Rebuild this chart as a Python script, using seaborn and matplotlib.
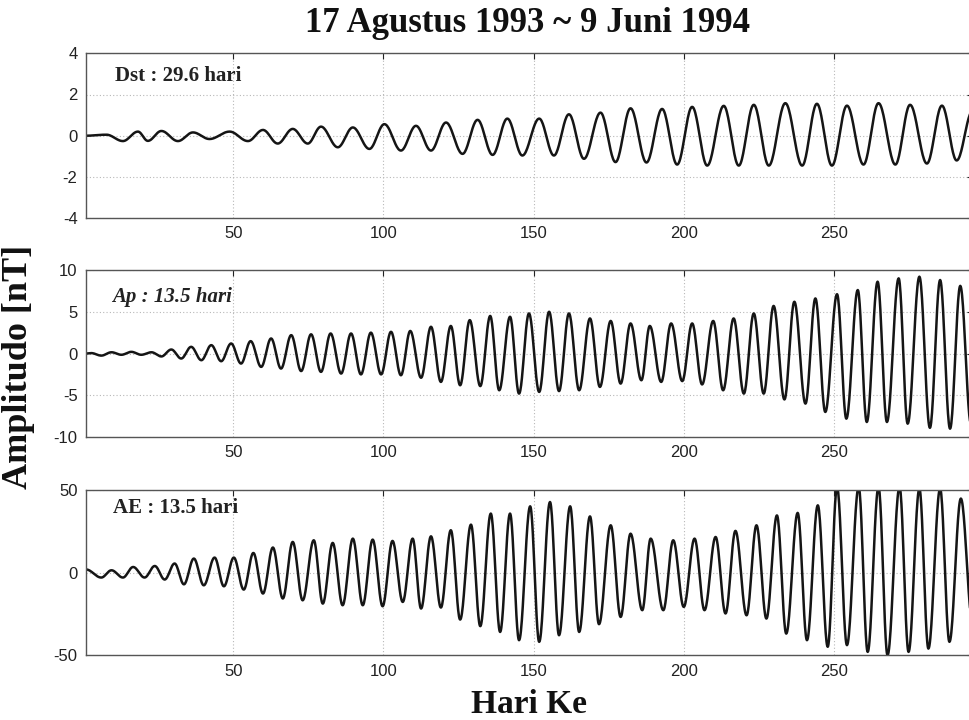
import numpy as np
import pandas as pd
import matplotlib
matplotlib.use("Agg")
import matplotlib.pyplot as plt
import seaborn as sns

title = "17 Agustus 1993 ~ 9 Juni 1994"
ylabel = "Amplitudo [nT]"
xlabel = "Hari Ke"
panel_labels = ["Dst : 29.6 hari", "Ap : 13.5 hari", "AE : 13.5 hari"]
x_ticks = [50, 100, 150, 200, 250]
y_ticks = [[-4, -2, 0, 2, 4], [-10, -5, 0, 5, 10], [-50, 0, 50]]
y_limits = [(-4, 4), (-10, 10), (-50, 50)]

# extrema (day, value)
dst_days = [1, 7.8, 13.3, 18.3, 21.6, 26.1, 31.6, 36.6, 42.1, 48.8,
            54.9, 59.9, 64.8, 69.8, 74.8, 79.2, 84.8, 89.8, 95.3, 100.3,
            105.8, 110.8, 115.8, 120.8, 126.3, 131.3, 136.3, 141.2, 146.2, 151.8,
            156.7, 161.7, 166.7, 172.2, 177.2, 182.2, 187.5, 192.7, 197.7, 202.7,
            207.7, 213.2, 218.2, 223.2, 228.2, 233.7, 239.3, 244.2, 249.2, 254.2,
            259.7, 264.7, 270.3, 275.2, 280.8, 285.8, 290.7, 296]
dst_vals = [0, 0.05, -0.26, 0.2, -0.25, 0.23, -0.26, 0.16, -0.16, 0.2,
            -0.26, 0.28, -0.38, 0.33, -0.38, 0.44, -0.56, 0.4, -0.64, 0.56,
            -0.72, 0.48, -0.72, 0.64, -0.88, 0.77, -0.93, 0.83, -0.96, 0.83,
            -0.96, 1.04, -1.12, 1.12, -1.28, 1.33, -1.3, 1.3, -1.4, 1.4,
            -1.45, 1.45, -1.45, 1.5, -1.45, 1.58, -1.45, 1.55, -1.45, 1.46,
            -1.4, 1.58, -1.4, 1.5, -1.35, 1.46, -1.2, 1.2]

ap_days = [1, 2.8, 6.1, 9.5, 12.8, 16.1, 19.4, 22.8, 26.1, 29.4,
           32.7, 36.0, 39.4, 42.7, 46.0, 49.3, 52.6, 55.8, 59.3, 62.6,
           65.9, 69.3, 72.6, 75.9, 79.2, 82.4, 85.9, 89.2, 92.5, 95.8,
           99.2, 102.5, 105.8, 108.9, 112.5, 115.8, 119.1, 122.4, 125.5, 128.7,
           132.2, 135.5, 138.5, 142.1, 145.1, 148.4, 151.8, 155.1, 158.4, 161.7,
           165.1, 168.7, 172.0, 175.6, 178.9, 182.2, 185.8, 188.6, 192.4, 195.7,
           199.4, 202.7, 206.0, 209.7, 213.0, 216.5, 219.9, 223.2, 226.5, 229.8,
           233.4, 236.7, 240.4, 243.7, 247.0, 250.9, 254.0, 257.8, 260.8, 264.4,
           267.5, 271.4, 274.4, 278.3, 281.8, 285.2, 288.5, 291.9, 295.5]
ap_vals = [0, 0.05, -0.25, 0.15, -0.15, 0.2, -0.15, 0.15, -0.35, 0.48,
           -0.6, 0.8, -0.8, 1.0, -0.92, 1.2, -1.2, 1.48, -1.6, 1.8,
           -1.8, 2.2, -2.1, 2.3, -2.2, 2.4, -2.4, 2.4, -2.5, 2.5,
           -2.5, 2.6, -2.6, 2.7, -2.9, 3.2, -3.4, 3.3, -3.8, 4.0,
           -3.9, 4.5, -4.4, 4.4, -4.8, 4.8, -4.6, 5.0, -4.5, 4.8,
           -4.4, 4.2, -4.0, 3.9, -3.6, 3.6, -3.2, 3.3, -3.4, 3.6,
           -3.3, 3.6, -3.7, 3.9, -4.4, 4.2, -4.8, 4.8, -4.8, 5.7,
           -5.5, 6.2, -6.0, 6.6, -7.0, 7.1, -7.8, 7.6, -8.2, 8.6,
           -8.2, 9.0, -8.4, 9.2, -8.9, 8.8, -9.0, 8.1, -8.5]

ae_days = [1, 6.1, 9.5, 13.3, 16.7, 20.5, 23.9, 27.2, 30.5, 33.6,
           36.9, 40.2, 43.8, 46.9, 50.2, 53.5, 56.7, 59.9, 63.2, 66.5,
           69.8, 73.1, 76.8, 79.8, 83.1, 86.4, 89.8, 93.1, 96.4, 99.7,
           103.0, 106.4, 109.7, 112.5, 115.8, 119.1, 122.4, 125.5, 129.1, 132.2,
           135.7, 138.8, 142.1, 145.1, 148.8, 151.8, 155.4, 158.4, 162.1, 165.1,
           168.7, 171.7, 175.6, 178.9, 182.2, 186.1, 188.9, 193.1, 196.4, 199.9,
           203.5, 206.8, 210.5, 213.8, 217.1, 220.8, 224.1, 227.4, 230.9, 234.0,
           237.8, 240.9, 244.5, 247.8, 250.9, 254.2, 258.1, 261.1, 264.7, 267.7,
           271.7, 274.7, 278.3, 281.3, 285.2, 288.3, 292.1, 296]
ae_vals = [2, -2.9, 1.5, -2.9, 3.5, -2.9, 4.1, -4.1, 5.6, -7.0,
           8.6, -7.6, 9.2, -8.2, 9.2, -10.2, 12.0, -12.6, 15.3, -15.6,
           18.7, -16.7, 19.7, -18.7, 18.1, -19.7, 20.7, -19.7, 20.1, -20.3,
           19.3, -17.7, 20.7, -21.7, 22.1, -21.1, 25.8, -28.4, 29.2, -32.4,
           35.9, -35.9, 35.9, -40.9, 40.3, -41.9, 42.9, -37.9, 40.3, -35.9,
           34.2, -31.2, 28.8, -26.8, 23.7, -22.7, 20.7, -22.7, 19.7, -20.7,
           20.7, -22.7, 21.7, -24.7, 25.4, -25.8, 28.8, -27.8, 34.8, -36.9,
           36.3, -40.9, 40.9, -44.9, 52, -43.9, 52, -48, 52, -50,
           52, -48, 51, -46, 51, -41.9, 45, -30]


def wave(days, vals, n=24):
    """Draw a smooth half-cosine stroke between consecutive read extrema."""
    ts, vs = [], []
    for t0, v0, t1, v1 in zip(days[:-1], vals[:-1], days[1:], vals[1:]):
        s = np.linspace(0, 1, n, endpoint=False)
        ts.append(t0 + (t1 - t0) * s)
        vs.append(v1 + (v0 - v1) * (1 + np.cos(np.pi * s)) / 2)
    ts.append([days[-1]])
    vs.append([vals[-1]])
    return pd.DataFrame({"hari": np.concatenate(ts), "amp": np.concatenate(vs)})


sns.set_theme(style="white")
plt.rcParams["font.family"] = ["Liberation Sans", "DejaVu Sans"]
plt.rcParams["axes.unicode_minus"] = False

fig = plt.figure(figsize=(9.69, 7.2), dpi=100)
positions = [[0.0887, 0.697, 0.915, 0.229],
             [0.0887, 0.393, 0.915, 0.232],
             [0.0887, 0.090, 0.915, 0.229]]
series = [(dst_days, dst_vals), (ap_days, ap_vals), (ae_days, ae_vals)]
label_pos = [(0.033, 0.865), (0.029, 0.84), (0.030, 0.89)]
label_style = ["normal", "italic", "normal"]

for i, (pos, (d, v)) in enumerate(zip(positions, series)):
    ax = fig.add_axes(pos)
    df = wave(d, v)
    sns.lineplot(data=df, x="hari", y="amp", ax=ax, color="#151515",
                 linewidth=1.8, sort=False, estimator=None)
    ax.set_xlim(1, 296)
    ax.set_ylim(*y_limits[i])
    ax.set_xticks(x_ticks)
    ax.set_yticks(y_ticks[i])
    ax.set_xlabel("")
    ax.set_ylabel("")
    ax.grid(True, linestyle=(0, (1, 2)), color="#b8b8b8", linewidth=0.8)
    ax.tick_params(direction="in", length=4, width=0.8, top=True, right=True,
                   labelsize=12, colors="#222222", pad=6)
    for sp in ax.spines.values():
        sp.set_color("#555555")
        sp.set_linewidth(1.0)
    ax.text(label_pos[i][0], label_pos[i][1], panel_labels[i],
            transform=ax.transAxes, ha="left", va="center",
            fontsize=15, fontweight="bold", style=label_style[i],
            family=["Liberation Serif", "DejaVu Serif"], color="#222222")

fig.text(0.544, 0.968, title, ha="center", va="center", fontsize=25,
         fontweight="bold", family=["Liberation Serif", "DejaVu Serif"], color="#111111")
fig.text(0.019, 0.49, ylabel, ha="center", va="center", rotation=90, fontsize=26,
         fontweight="bold", family=["Liberation Serif", "DejaVu Serif"], color="#111111")
fig.text(0.546, 0.022, xlabel, ha="center", va="center", fontsize=24,
         fontweight="bold", family=["Liberation Serif", "DejaVu Serif"], color="#111111")

fig.savefig("out.png", dpi=100)
